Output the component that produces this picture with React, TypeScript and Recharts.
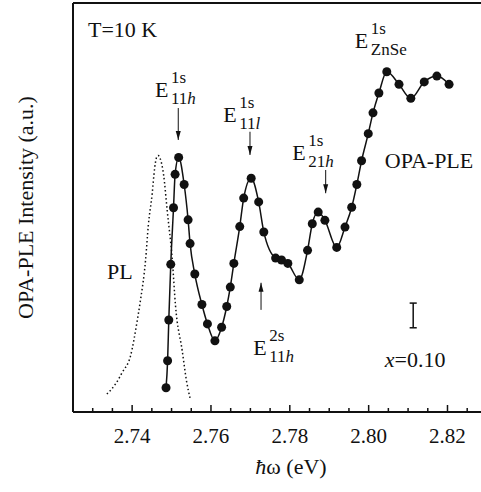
import React from "react";
import {
  LineChart,
  Line,
  XAxis,
  YAxis,
  ReferenceLine,
  ReferenceDot,
} from "recharts";

// OPA-PLE spectrum, photon energy (eV) vs intensity (a.u.)
const pleEnergy = [
  2.7486, 2.749, 2.7493, 2.7498, 2.7505, 2.7509, 2.7518, 2.7532, 2.7542, 2.7547,
  2.7559, 2.7577, 2.7591, 2.761, 2.7627, 2.764, 2.7649, 2.7658, 2.7673, 2.7683,
  2.7702, 2.7721, 2.7734, 2.7764, 2.7779, 2.7795, 2.7824, 2.7845, 2.7857, 2.7872,
  2.7889, 2.7919, 2.794, 2.7957, 2.797, 2.7982, 2.7999, 2.8011, 2.8026, 2.8046,
  2.8077, 2.8107, 2.8141, 2.8173, 2.8204,
];
const pleIntensity = [
  0.0, 0.56, 1.4, 2.55, 3.72, 4.41, 4.76, 4.2, 3.47, 2.98,
  2.35, 1.72, 1.32, 0.97, 1.25, 1.68, 2.08, 2.57, 3.33, 3.92,
  4.33, 3.84, 3.22, 2.68, 2.64, 2.57, 2.23, 2.84, 3.39, 3.63,
  3.46, 2.9, 3.32, 3.73, 4.2, 4.69, 5.25, 5.68, 6.09, 6.53,
  6.27, 5.98, 6.32, 6.44, 6.27,
];

// PL band (dotted)
const plEnergy = [
  2.7336, 2.7358, 2.7375, 2.7396, 2.7413, 2.7421, 2.7434, 2.7441, 2.7451, 2.7457,
  2.7462, 2.7466, 2.7471, 2.748, 2.7489, 2.7502, 2.751, 2.7527, 2.7538, 2.7548,
];
const plIntensity = [
  -0.13, 0.08, 0.32, 0.66, 1.39, 1.8, 2.63, 3.35, 4.02, 4.53,
  4.76, 4.8, 4.74, 4.39, 3.66, 2.63, 1.7, 0.77, 0.14, -0.25,
];

const xTicks = [
  2.73, 2.735, 2.74, 2.745, 2.75, 2.755, 2.76, 2.765, 2.77, 2.775,
  2.78, 2.785, 2.79, 2.795, 2.8, 2.805, 2.81, 2.815, 2.82, 2.825,
];
const xMajor = [2.74, 2.76, 2.78, 2.8, 2.82];
const xMajorLabels = ["2.74", "2.76", "2.78", "2.80", "2.82"];
const yTicks = [0, 1, 2, 3, 4, 5, 6, 7];
const xDomain = [2.725, 2.8285];
const yDomain = [-0.5, 7.95];

// exciton labels: E^sup_sub
const excitonX = [2.7458, 2.7631, 2.7806, 2.7965, 2.7707];
const excitonY = [6.01, 5.49, 4.71, 7.02, 0.68];
const excitonSub = ["11", "11", "21", "ZnSe", "11"];
const excitonSubItalic = ["h", "l", "h", "", "h"];
const excitonSup = ["1s", "1s", "1s", "1s", "2s"];

// arrows: tip and tail
const arrowX = [2.7517, 2.7699, 2.7891, 2.7727];
const arrowTip = [5.12, 4.81, 4.02, 2.17];
const arrowTail = [5.78, 5.29, 4.5, 1.61];

const noteX = [2.7288, 2.8041, 2.7336];
const noteY = [7.25, 4.54, 2.25];
const noteText = ["T=10 K", "OPA-PLE", "PL"];

const errX = 2.8113;
const errLow = 1.24;
const errHigh = 1.75;
const conc = "0.10";
const concPos = { x: 2.8041, y: 0.43 };

const pleData = pleEnergy.map((x, i) => ({ x, y: pleIntensity[i] }));
const plData = plEnergy.map((x, i) => ({ x, y: plIntensity[i] }));

const FONT = "Liberation Serif";
const INK = "#111";
const serif = { fontFamily: FONT };

const XTick = (props: any) => {
  const { x, y, payload } = props;
  const idx = xMajor.indexOf(payload.value);
  const major = idx >= 0;
  return (
    <g>
      <line x1={x} x2={x} y1={y} y2={y - (major ? 7 : 4)} stroke={INK} strokeWidth={1.5} />
      {major && (
        <text x={x} y={y + 31} textAnchor="middle" style={serif} fontSize={21} fill={INK}>
          {xMajorLabels[idx]}
        </text>
      )}
    </g>
  );
};

const excitonShape = (i: number) => (p: any) => (
  <g style={serif} fill={INK}>
    <text x={p.cx} y={p.cy} style={serif} fontSize={22}>E</text>
    <text x={p.cx + 16} y={p.cy - 14} style={serif} fontSize={17}>{excitonSup[i]}</text>
    <text x={p.cx + 16} y={p.cy + 7} style={serif} fontSize={17}>
      {excitonSub[i]}
      <tspan fontStyle="italic">{excitonSubItalic[i]}</tspan>
    </text>
  </g>
);

const arrowHead = (down: boolean) => (p: any) => {
  const d = down ? -1 : 1;
  return (
    <path
      d={`M${p.cx},${p.cy} L${p.cx - 2.5},${p.cy + d * 9} L${p.cx + 2.5},${p.cy + d * 9} Z`}
      fill={INK}
    />
  );
};

const noteShape = (t: string) => (p: any) => (
  <text x={p.cx} y={p.cy} style={serif} fontSize={22} fill={INK}>
    {t}
  </text>
);

const concShape = (p: any) => (
  <text x={p.cx} y={p.cy} style={serif} fontSize={22} fill={INK}>
    <tspan fontStyle="italic">x</tspan>={conc}
  </text>
);

const yTitle = (props: any) => {
  const vb = props.viewBox;
  const cx = vb.x + 33;
  const cy = vb.y + vb.height / 2;
  return (
    <text
      x={cx}
      y={cy}
      transform={`rotate(-90 ${cx} ${cy})`}
      textAnchor="middle"
      style={serif}
      fontSize={22}
      fill={INK}
    >
      OPA-PLE Intensity (a.u.)
    </text>
  );
};

const xTitle = (props: any) => {
  const vb = props.viewBox;
  return (
    <text x={vb.x + 218} y={vb.y + 62} textAnchor="middle" style={serif} fontSize={22} fill={INK}>
      <tspan fontStyle="italic">ħ</tspan>ω (eV)
    </text>
  );
};

export default function App() {
  return (
    <div
      style={{
        position: "absolute",
        left: 0,
        top: 0,
        width: 481,
        height: 492,
        background: "#fff",
        fontFamily: FONT,
      }}
    >
      <LineChart width={481} height={492} margin={{ top: 3, right: 0, bottom: 40, left: 0 }}>
        <XAxis
          dataKey="x"
          type="number"
          domain={xDomain}
          allowDataOverflow
          ticks={xTicks}
          interval={0}
          tickLine={false}
          tickSize={0}
          tickMargin={0}
          tick={<XTick />}
          height={40}
          axisLine={{ stroke: INK, strokeWidth: 2 }}
          label={xTitle}
        />
        <YAxis
          type="number"
          domain={yDomain}
          allowDataOverflow
          ticks={yTicks}
          interval={0}
          tick={false}
          tickSize={-7}
          tickLine={{ stroke: INK, strokeWidth: 1.5 }}
          width={73}
          axisLine={{ stroke: INK, strokeWidth: 2 }}
          label={yTitle}
        />
        <ReferenceLine y={yDomain[1]} stroke={INK} strokeWidth={2} ifOverflow="visible" />

        <Line
          data={plData}
          dataKey="y"
          type="monotone"
          stroke={INK}
          strokeWidth={1.5}
          strokeDasharray="1.5 2.5"
          dot={false}
          isAnimationActive={false}
        />
        <Line
          data={pleData}
          dataKey="y"
          type="monotone"
          stroke={INK}
          strokeWidth={1.5}
          dot={{ r: 4.5, fill: INK, stroke: INK, strokeWidth: 0 }}
          activeDot={false}
          isAnimationActive={false}
        />

        {arrowX.map((x, i) => (
          <ReferenceLine
            key={`as${i}`}
            segment={[{ x, y: arrowTail[i] }, { x, y: arrowTip[i] }]}
            stroke={INK}
            strokeWidth={1}
          />
        ))}
        {arrowX.map((x, i) => (
          <ReferenceDot
            key={`ah${i}`}
            x={x}
            y={arrowTip[i]}
            r={0}
            shape={arrowHead(arrowTail[i] > arrowTip[i])}
          />
        ))}
        {excitonX.map((x, i) => (
          <ReferenceDot key={`ex${i}`} x={x} y={excitonY[i]} r={0} shape={excitonShape(i)} />
        ))}
        {noteX.map((x, i) => (
          <ReferenceDot key={`n${i}`} x={x} y={noteY[i]} r={0} shape={noteShape(noteText[i])} />
        ))}
        <ReferenceDot x={concPos.x} y={concPos.y} r={0} shape={concShape} />

        <ReferenceLine segment={[{ x: errX, y: errLow }, { x: errX, y: errHigh }]} stroke={INK} strokeWidth={1.5} />
        <ReferenceLine segment={[{ x: errX - 0.0009, y: errLow }, { x: errX + 0.0009, y: errLow }]} stroke={INK} strokeWidth={1.5} />
        <ReferenceLine segment={[{ x: errX - 0.0009, y: errHigh }, { x: errX + 0.0009, y: errHigh }]} stroke={INK} strokeWidth={1.5} />
      </LineChart>
    </div>
  );
}
